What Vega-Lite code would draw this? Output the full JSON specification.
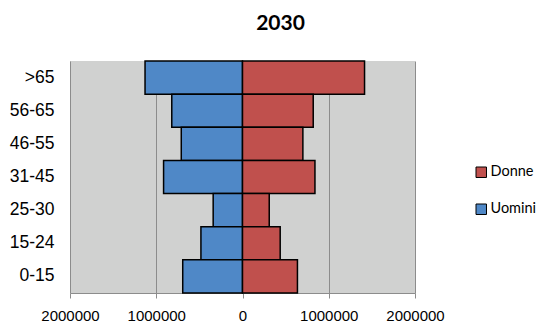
{
  "$schema": "https://vega.github.io/schema/vega-lite/v6.json",
  "width": 345,
  "height": 232,
  "autosize": {"type": "none"},
  "padding": {"left": 70, "top": 61, "right": 132, "bottom": 41},
  "background": "white",
  "title": {
    "text": "2030",
    "font": "Lato",
    "fontSize": 21,
    "fontWeight": "bold",
    "color": "black",
    "anchor": "middle",
    "dx": 38,
    "baseline": "alphabetic",
    "offset": 9
  },
  "view": {"fill": "#d0d1d0", "stroke": null},
  "data": {
    "values": [
      {"eta": ">65", "sesso": "Uomini", "valore": -1130000},
      {"eta": ">65", "sesso": "Donne", "valore": 1415000},
      {"eta": "56-65", "sesso": "Uomini", "valore": -820000},
      {"eta": "56-65", "sesso": "Donne", "valore": 820000},
      {"eta": "46-55", "sesso": "Uomini", "valore": -710000},
      {"eta": "46-55", "sesso": "Donne", "valore": 700000},
      {"eta": "31-45", "sesso": "Uomini", "valore": -915000},
      {"eta": "31-45", "sesso": "Donne", "valore": 840000},
      {"eta": "25-30", "sesso": "Uomini", "valore": -340000},
      {"eta": "25-30", "sesso": "Donne", "valore": 310000},
      {"eta": "15-24", "sesso": "Uomini", "valore": -482000},
      {"eta": "15-24", "sesso": "Donne", "valore": 437000},
      {"eta": "0-15", "sesso": "Uomini", "valore": -693000},
      {"eta": "0-15", "sesso": "Donne", "valore": 637000}
    ]
  },
  "mark": {"type": "bar", "stroke": "black", "strokeWidth": 1.5},
  "encoding": {
    "y": {
      "field": "eta",
      "type": "nominal",
      "title": null,
      "scale": {
        "domain": [">65", "56-65", "46-55", "31-45", "25-30", "15-24", "0-15"],
        "paddingInner": 0,
        "paddingOuter": 0
      },
      "axis": {
        "domain": false,
        "ticks": false,
        "grid": false,
        "labelFont": "Liberation Sans",
        "labelFontSize": 17.5,
        "labelColor": "black",
        "labelPadding": 16
      }
    },
    "x": {
      "field": "valore",
      "type": "quantitative",
      "title": null,
      "scale": {"domain": [-2000000, 2000000], "nice": false},
      "axis": {
        "values": [-2000000, -1000000, 0, 1000000, 2000000],
        "labelExpr": "format(abs(datum.value), 'd')",
        "labelFont": "Liberation Sans",
        "labelFontSize": 15,
        "labelColor": "black",
        "labelPadding": 10,
        "grid": true,
        "gridColor": "#8c8c8c",
        "gridWidth": 1,
        "gridOpacity": 1,
        "domainColor": "#8c8c8c",
        "domainWidth": 1,
        "tickColor": "#8c8c8c",
        "tickSize": 5,
        "labelFlush": false
      }
    },
    "color": {
      "field": "sesso",
      "type": "nominal",
      "title": null,
      "scale": {"domain": ["Donne", "Uomini"], "range": ["#C0504D", "#4F88C7"]},
      "legend": {
        "orient": "none",
        "legendX": 404,
        "legendY": 104,
        "symbolType": "square",
        "symbolSize": 110,
        "symbolStrokeColor": "black",
        "symbolStrokeWidth": 1,
        "symbolOpacity": 1,
        "labelFont": "Lato",
        "labelFontSize": 14.5,
        "labelColor": "black",
        "labelOffset": 2,
        "rowPadding": 21
      }
    }
  }
}
